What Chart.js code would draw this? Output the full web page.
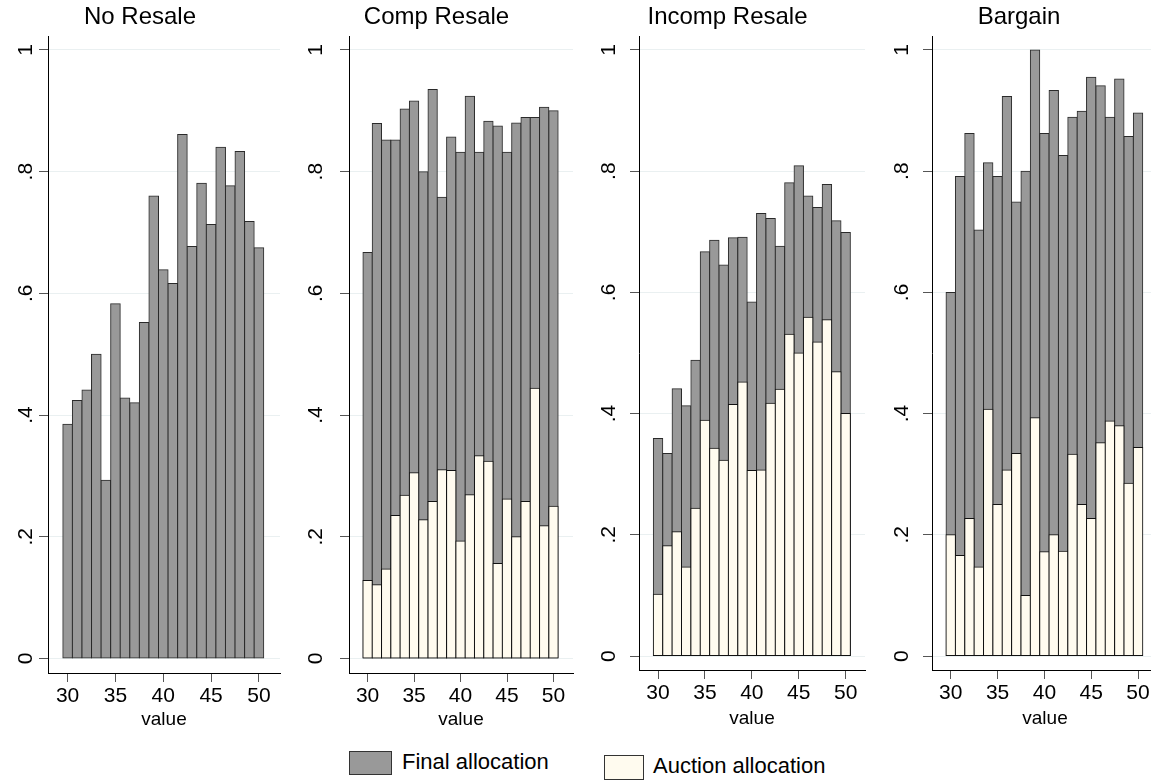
<!DOCTYPE html>
<html>
<head>
<meta charset="utf-8">
<script src="https://cdn.jsdelivr.net/npm/chart.js@4.4.0/dist/chart.umd.min.js"></script>
<style>
  html, body { margin: 0; padding: 0; background: #fff; width: 1151px; height: 782px; overflow: hidden; }
  body { position: relative; font-family: "Liberation Sans", Arial, sans-serif; }
  .panel { position: absolute; top: 0; height: 740px; }
  .legend { position: absolute; font-size: 22px; color: #000; white-space: nowrap; }
  .swatch { position: absolute; border: 1px solid #333; box-sizing: border-box; }
</style>
</head>
<body>
<canvas id="p0" class="panel"></canvas>
<canvas id="p1" class="panel"></canvas>
<canvas id="p2" class="panel"></canvas>
<canvas id="p3" class="panel"></canvas>

<div class="swatch" style="left:349px;top:751px;width:43px;height:24px;background:#999999"></div>
<div class="legend" style="left:402px;top:749px;">Final allocation</div>
<div class="swatch" style="left:604px;top:755px;width:40px;height:25px;background:#fffbef"></div>
<div class="legend" style="left:653px;top:753px;">Auction allocation</div>

<script>
// valeurs (abscisse) et séries
const values = [30, 31, 32, 33, 34, 35, 36, 37, 38, 39, 40, 41, 42, 43, 44, 45, 46, 47, 48, 49, 50];

const finalNoResale = [0.385, 0.424, 0.441, 0.500, 0.293, 0.583, 0.428, 0.420, 0.552, 0.760, 0.639,
                       0.616, 0.861, 0.677, 0.781, 0.713, 0.840, 0.777, 0.833, 0.718, 0.675];
const auctionNoResale = [];

const finalComp = [0.667, 0.879, 0.852, 0.852, 0.903, 0.916, 0.800, 0.935, 0.758, 0.857, 0.832,
                   0.924, 0.832, 0.883, 0.875, 0.832, 0.880, 0.889, 0.889, 0.906, 0.900];
const auctionComp = [0.128, 0.121, 0.147, 0.235, 0.268, 0.305, 0.228, 0.258, 0.310, 0.309, 0.193,
                     0.269, 0.333, 0.324, 0.156, 0.262, 0.200, 0.258, 0.444, 0.218, 0.250];

const finalIncomp = [0.359, 0.334, 0.441, 0.413, 0.488, 0.667, 0.686, 0.645, 0.690, 0.691, 0.584,
                     0.730, 0.722, 0.676, 0.781, 0.809, 0.759, 0.740, 0.778, 0.718, 0.699];
const auctionIncomp = [0.102, 0.182, 0.205, 0.147, 0.244, 0.389, 0.343, 0.323, 0.415, 0.452, 0.306,
                       0.307, 0.417, 0.440, 0.531, 0.500, 0.559, 0.518, 0.555, 0.469, 0.400];

const finalBargain = [0.600, 0.791, 0.862, 0.703, 0.814, 0.791, 0.923, 0.749, 0.800, 1.000, 0.862,
                      0.933, 0.826, 0.889, 0.899, 0.955, 0.941, 0.889, 0.952, 0.857, 0.896];
const auctionBargain = [0.200, 0.166, 0.227, 0.147, 0.407, 0.250, 0.307, 0.334, 0.100, 0.393, 0.172,
                        0.200, 0.173, 0.333, 0.250, 0.227, 0.352, 0.388, 0.380, 0.285, 0.344];

const panelTitles = ['No Resale', 'Comp Resale', 'Incomp Resale', 'Bargain'];
const xTicks = [30, 35, 40, 45, 50];
const yTicks = [0, 0.2, 0.4, 0.6, 0.8, 1];
const yTickLabels = ['0', '.2', '.4', '.6', '.8', '1'];
const xTitle = 'value';
const seriesNames = ['Final allocation', 'Auction allocation'];

const finals = [finalNoResale, finalComp, finalIncomp, finalBargain];
const auctions = [auctionNoResale, auctionComp, auctionIncomp, auctionBargain];

// mise en page de chaque panneau
const layouts = [
  { left: 0,   width: 283, yw: 48, padRight: 3,  xh: 67, xMin: 27.95, xMax: 52.2,  yMin: -0.024, yMax: 1.023, yPad: 4 },
  { left: 300, width: 320, yw: 49, padRight: 47, xh: 67, xMin: 28.0,  xMax: 52.1,  yMin: -0.024, yMax: 1.023, yPad: 15 },
  { left: 590, width: 330, yw: 49, padRight: 55, xh: 70, xMin: 27.97, xMax: 52.06, yMin: -0.023, yMax: 1.023, yPad: 12 },
  { left: 880, width: 294, yw: 52, padRight: 16, xh: 70, xMin: 28.0,  xMax: 52.13, yMin: -0.023, yMax: 1.023, yPad: 12 }
];

const toPoints = arr => arr.map((v, i) => ({ x: values[i], y: v }));

const barStyle = {
  borderWidth: 1,
  borderSkipped: false,
  inflateAmount: 0.5,
  grouped: false,
  barPercentage: 1,
  categoryPercentage: 1
};

panelTitles.forEach((title, k) => {
  const lay = layouts[k];
  const canvas = document.getElementById('p' + k);
  canvas.style.left = lay.left + 'px';
  canvas.style.width = lay.width + 'px';
  canvas.width = lay.width;
  canvas.height = 740;

  new Chart(canvas, {
    type: 'bar',
    data: {
      datasets: [
        Object.assign({
          label: seriesNames[1],
          data: toPoints(auctions[k]),
          backgroundColor: '#fffbef',
          borderColor: '#111',
          order: 1
        }, barStyle),
        Object.assign({
          label: seriesNames[0],
          data: toPoints(finals[k]),
          backgroundColor: '#999999',
          borderColor: '#2a2a2a',
          order: 2
        }, barStyle)
      ]
    },
    options: {
      responsive: false,
      animation: false,
      maintainAspectRatio: false,
      layout: { padding: { left: 0, right: lay.padRight, top: 0, bottom: 0 } },
      plugins: {
        legend: { display: false },
        tooltip: { enabled: false },
        title: {
          display: true,
          text: title,
          color: '#000',
          font: { family: '"Liberation Sans", Arial, sans-serif', size: 24, weight: 'normal', lineHeight: 1.2 },
          padding: { top: 3, bottom: 4.2 }
        }
      },
      scales: {
        x: {
          type: 'linear',
          min: lay.xMin,
          max: lay.xMax,
          offset: false,
          afterBuildTicks: s => { s.ticks = xTicks.map(v => ({ value: v })); },
          afterFit: s => { s.height = lay.xh; },
          grid: { offset: false, drawOnChartArea: false, drawTicks: true, tickLength: 9, tickColor: '#555' },
          border: { display: true, color: '#000', width: 1 },
          ticks: {
            color: '#000',
            padding: 2,
            maxRotation: 0,
            autoSkip: false,
            font: { family: '"Liberation Sans", Arial, sans-serif', size: 21 },
            callback: v => String(v)
          },
          title: {
            display: true,
            text: xTitle,
            color: '#000',
            font: { family: '"Liberation Sans", Arial, sans-serif', size: 19, lineHeight: 1.2 },
            padding: { top: 0, bottom: lay.xh === 67 ? 8.6 : 9.6 }
          }
        },
        y: {
          type: 'linear',
          min: lay.yMin,
          max: lay.yMax,
          afterBuildTicks: s => { s.ticks = yTicks.map(v => ({ value: v })); },
          afterFit: s => { s.width = lay.yw; },
          grid: { drawOnChartArea: true, color: '#eaf0f1', lineWidth: 1, drawTicks: true, tickLength: 9, tickColor: '#555' },
          border: { display: true, color: '#000', width: 1 },
          ticks: {
            color: '#000',
            padding: lay.yPad,
            minRotation: 90,
            maxRotation: 90,
            crossAlign: 'center',
            autoSkip: false,
            font: { family: '"Liberation Sans", Arial, sans-serif', size: 21 },
            callback: v => yTickLabels[yTicks.findIndex(t => Math.abs(t - v) < 1e-6)]
          }
        }
      }
    }
  });
});
</script>
</body>
</html>
